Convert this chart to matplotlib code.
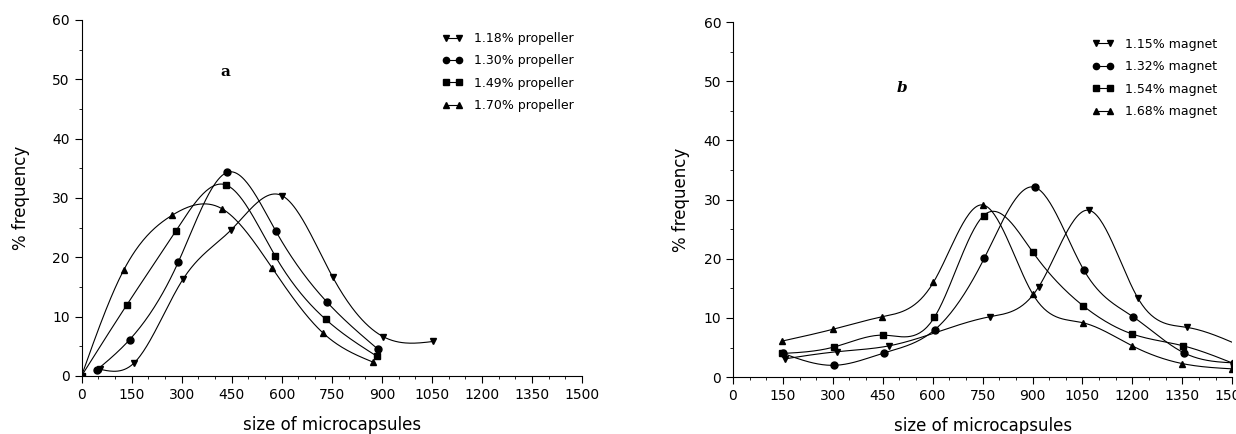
import numpy as np
import matplotlib
matplotlib.use("Agg")
import matplotlib.pyplot as plt
from matplotlib.ticker import MultipleLocator

# panel a: propeller stirring
prop_labels = ["1.18% propeller", "1.30% propeller", "1.49% propeller", "1.70% propeller"]
prop_x = [
    [55, 156, 304, 448, 600, 752, 904, 1054],
    [46, 144, 290, 436, 582, 736, 888],
    [0, 136, 282, 432, 580, 732, 885],
    [0, 126, 272, 420, 572, 724, 874],
]
prop_y = [
    [1.1, 2.1, 16.3, 24.6, 30.4, 16.7, 6.6, 5.8],
    [1.0, 6.1, 19.2, 34.3, 24.4, 12.4, 4.5],
    [0.0, 12.0, 24.4, 32.2, 20.2, 9.5, 3.3],
    [0.0, 17.8, 27.1, 28.2, 18.1, 7.2, 2.3],
]

# panel b: magnetic stirring
mag_labels = ["1.15% magnet", "1.32% magnet", "1.54% magnet", "1.68% magnet"]
mag_x = [
    [157, 313, 470, 771, 919, 1070, 1217, 1365, 1516],
    [151, 305, 454, 606, 755, 906, 1054, 1202, 1355, 1506],
    [148, 304, 452, 605, 753, 901, 1051, 1199, 1352, 1504],
    [148, 301, 448, 602, 751, 901, 1051, 1199, 1349, 1500],
]
mag_y = [
    [3.1, 4.3, 5.3, 10.2, 15.3, 28.2, 13.3, 8.4, 5.5],
    [4.0, 2.0, 4.1, 8.0, 20.1, 32.1, 18.1, 10.2, 4.1, 2.4],
    [4.0, 5.1, 7.1, 10.1, 27.3, 21.1, 12.1, 7.3, 5.3, 2.3],
    [6.1, 8.1, 10.2, 16.0, 29.1, 14.0, 9.2, 5.3, 2.3, 1.4],
]

markers = ["v", "o", "s", "^"]
xticks = list(range(0, 1501, 150))


def natural_spline(x, y, n=300):
    x = np.asarray(x, float)
    y = np.asarray(y, float)
    m = len(x)
    h = np.diff(x)
    A = np.zeros((m, m))
    r = np.zeros(m)
    A[0, 0] = A[-1, -1] = 1
    for i in range(1, m - 1):
        A[i, i - 1] = h[i - 1]
        A[i, i] = 2 * (h[i - 1] + h[i])
        A[i, i + 1] = h[i]
        r[i] = 3 * ((y[i + 1] - y[i]) / h[i] - (y[i] - y[i - 1]) / h[i - 1])
    c = np.linalg.solve(A, r)
    xs = np.linspace(x[0], x[-1], n)
    k = np.clip(np.searchsorted(x, xs) - 1, 0, m - 2)
    d = xs - x[k]
    b = (y[k + 1] - y[k]) / h[k] - h[k] * (2 * c[k] + c[k + 1]) / 3
    dd = (c[k + 1] - c[k]) / (3 * h[k])
    return xs, y[k] + b * d + c[k] * d ** 2 + dd * d ** 3


def draw_panel(ax, xs, ys, labels, tag, tag_pos, tag_style, leg_anchor, ypad):
    for x, y, lab, mk in zip(xs, ys, labels, markers):
        sx, sy = natural_spline(x, y)
        ax.plot(sx, sy, color="black", lw=0.8)
        ax.plot(x, y, ls="none", marker=mk, color="black", ms=5)
        ax.plot([], [], color="black", lw=0.8, marker=mk, ms=4.5, label=lab)
    ax.set_xlim(0, 1500)
    ax.set_ylim(0, 60)
    ax.set_xticks(xticks)
    ax.set_yticks(range(0, 61, 10))
    ax.xaxis.set_minor_locator(MultipleLocator(50))
    ax.yaxis.set_minor_locator(MultipleLocator(5))
    ax.tick_params(which="major", length=5, width=0.8, labelsize=10, direction="out")
    ax.tick_params(which="minor", length=2.5, width=0.6)
    for s in ["top", "right"]:
        ax.spines[s].set_visible(False)
    for s in ["left", "bottom"]:
        ax.spines[s].set_linewidth(0.8)
    ax.set_xlabel("size of microcapsules", fontsize=12, labelpad=10)
    ax.set_ylabel("% frequency", fontsize=12, labelpad=ypad)
    ax.text(tag_pos[0], tag_pos[1], tag, fontsize=11, fontweight="bold",
            fontfamily="DejaVu Serif", style=tag_style, ha="center", va="center")
    ax.legend(loc="upper left", bbox_to_anchor=leg_anchor, frameon=False,
              fontsize=9, numpoints=2, handlelength=1.7, handletextpad=0.9,
              labelspacing=0.75, borderaxespad=0)


fig = plt.figure(figsize=(12.36, 4.34), dpi=100)
ax1 = fig.add_axes([0.066, 0.134, 0.405, 0.82])
ax2 = fig.add_axes([0.593, 0.131, 0.404, 0.818])

draw_panel(ax1, prop_x, prop_y, prop_labels, "a", (432, 51.3), "normal",
           (0.71, 0.98), 16)
draw_panel(ax2, mag_x, mag_y, mag_labels, "b", (507, 48.8), "italic",
           (0.71, 0.97), 10)

fig.savefig("out.png", dpi=100)
